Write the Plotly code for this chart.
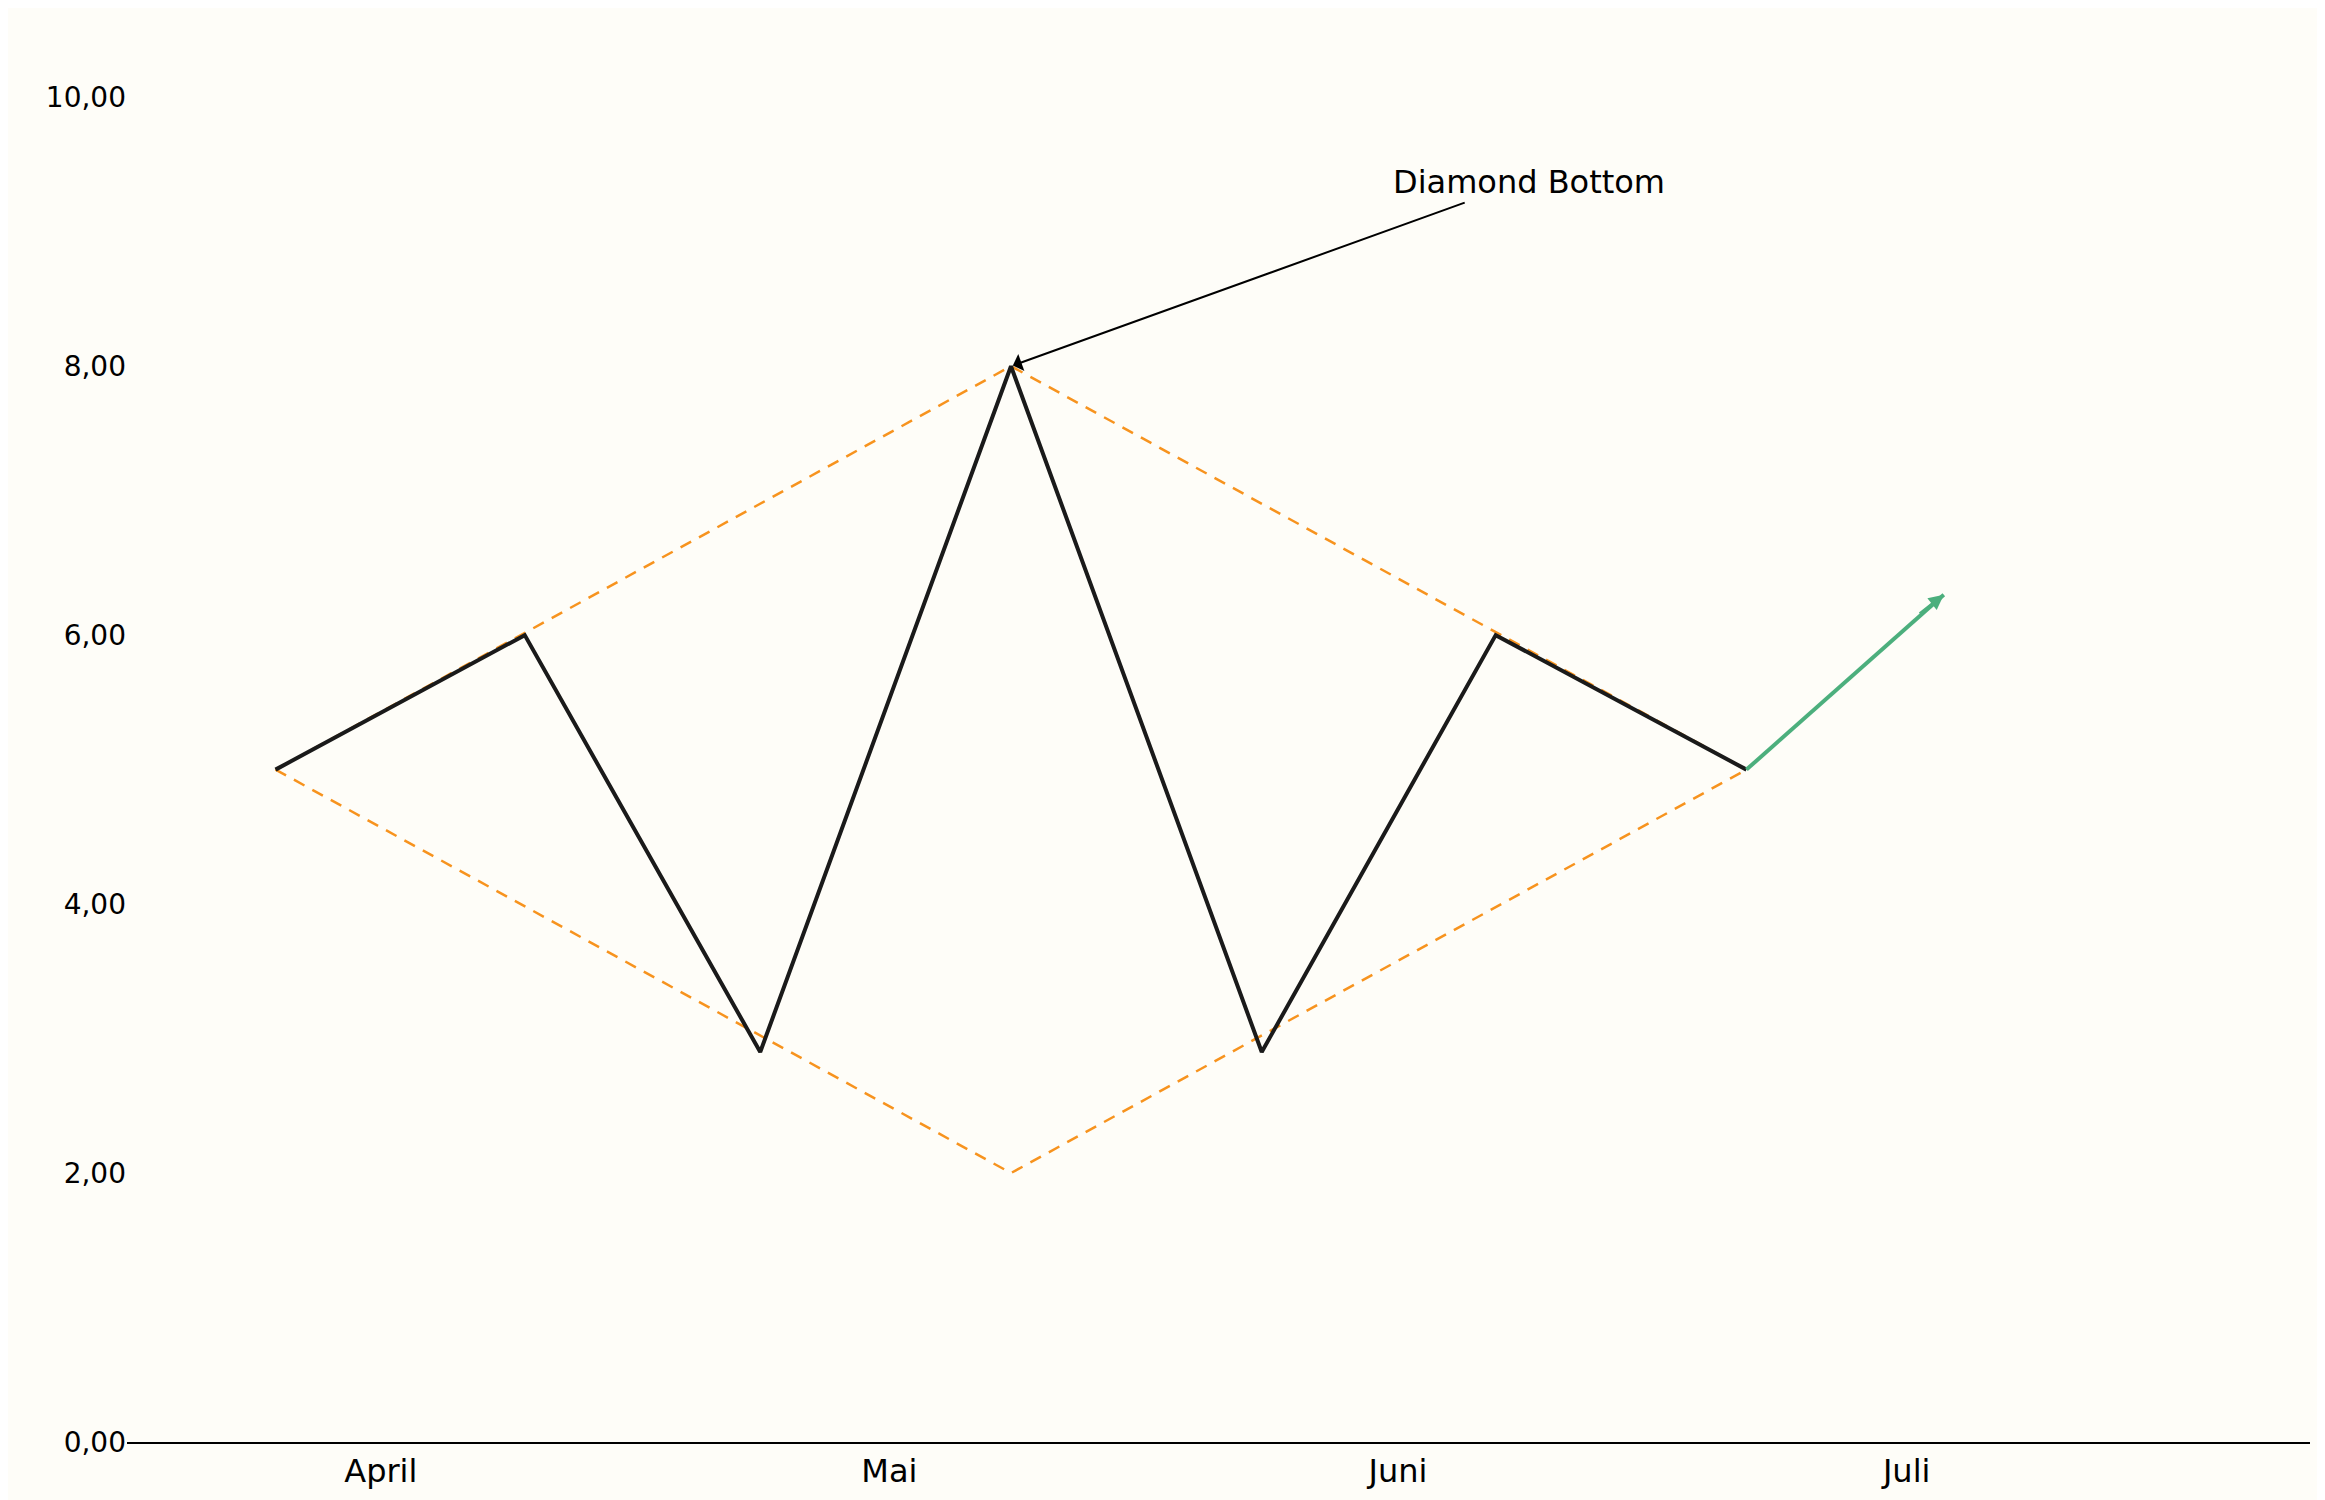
import plotly.graph_objects as go

# x in month units: April=0, Mai=1, Juni=2, Juli=3
months = ["April", "Mai", "Juni", "Juli"]
month_pos = [0, 1, 2, 3]

price_x = [-0.207, 0.283, 0.746, 1.239, 1.732, 2.192, 2.685]
price_y = [5.0, 6.0, 2.9, 8.0, 2.9, 6.0, 5.0]

breakout_x = [2.685, 3.073]
breakout_y = [5.0, 6.3]

upper_x = [-0.207, 1.239, 2.685]
upper_y = [5.0, 8.0, 5.0]
lower_x = [-0.207, 1.239, 2.685]
lower_y = [5.0, 2.0, 5.0]

orange = "#F7931E"
green = "#4CAF7D"

fig = go.Figure()
fig.add_scatter(x=upper_x, y=upper_y, mode="lines",
                line=dict(color=orange, width=2.5, dash="12px,9px"))
fig.add_scatter(x=lower_x, y=lower_y, mode="lines",
                line=dict(color=orange, width=2.5, dash="12px,9px"))
fig.add_scatter(x=price_x, y=price_y, mode="lines",
                line=dict(color="#1a1a1a", width=4))
fig.add_scatter(x=breakout_x, y=breakout_y, mode="lines",
                line=dict(color=green, width=4))

# breakout arrow head
fig.add_annotation(x=breakout_x[1], y=breakout_y[1], ax=breakout_x[1] - 0.05, ay=breakout_y[1] - 0.15,
                   xref="x", yref="y", axref="x", ayref="y", text="",
                   showarrow=True, arrowhead=2, arrowsize=1, arrowwidth=3, arrowcolor=green)

# pattern label
fig.add_annotation(x=price_x[3], y=price_y[3], ax=2.134, ay=9.22,
                   xref="x", yref="y", axref="x", ayref="y", text="",
                   showarrow=True, arrowhead=1, arrowsize=1.5, arrowwidth=2, arrowcolor="black",
                   standoff=2)
fig.add_annotation(x=2.257, y=9.37, xref="x", yref="y", text="Diamond Bottom",
                   showarrow=False, font=dict(size=32, color="black"))

fig.update_layout(
    width=2325, height=1500,
    paper_bgcolor="#FEFDF8", plot_bgcolor="#FEFDF8",
    showlegend=False, separators=",.",
    font=dict(family="DejaVu Sans", color="black"),
    margin=dict(l=119, r=23, t=22, b=66),
)
fig.update_xaxes(range=[-0.499, 3.793], tickvals=month_pos, ticktext=months,
                 tickfont=dict(size=32), showgrid=False, zeroline=False,
                 showline=True, linecolor="black", linewidth=2, ticks="")
fig.update_yaxes(range=[0, 10.5], tickvals=[0, 2, 4, 6, 8, 10], tickformat=".2f",
                 tickfont=dict(size=28), showgrid=False, zeroline=False, showline=False)

fig.write_html("out.html")
